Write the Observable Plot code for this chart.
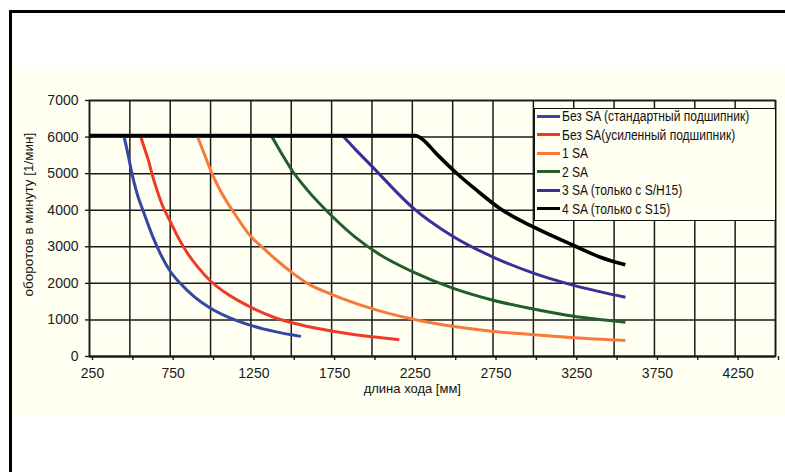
<!DOCTYPE html>
<html>
<head>
<meta charset="utf-8">
<script src="https://cdn.jsdelivr.net/npm/d3@7"></script>
<script src="https://cdn.jsdelivr.net/npm/@observablehq/plot@0.6"></script>
<style>
  body { margin: 0; background: #fff; }
  #wrap { position: relative; width: 785px; height: 472px; overflow: hidden; background: #fff; font-family: "Liberation Sans", Arial, sans-serif; }
  #border { position: absolute; left: 9px; top: 10px; width: 900px; height: 600px; border-left: 3px solid #000; border-top: 3px solid #000; }
  #band { position: absolute; left: 12px; top: 68px; width: 773px; height: 349px; background: #fffff2; }
  #chart { position: absolute; left: 0; top: 0; }
  #legend { position: absolute; left: 534px; top: 108px; width: 240px; height: 111px; border: 1px solid #111; background: #fffff2; }
  .row { position: absolute; left: 0; height: 18px; width: 240px; }
  .sw { position: absolute; left: 2px; width: 23px; height: 3px; }
  .lab { position: absolute; left: 27px; font-family: "Liberation Sans", Arial, sans-serif; font-size: 14px; color: #111; white-space: nowrap; line-height: 16px; transform: scaleX(0.86); transform-origin: 0 50%; }
</style>
</head>
<body>
<div id="wrap">
  <div id="band"></div>
  <div id="border"></div>
  <div id="chart"></div>
  <div id="legend"></div>
</div>
<script>
// ---- data (stroke length [mm] vs. speed [1/min]) ----
const seriesNames = [
  "Без SA (стандартный подшипник)",
  "Без SA(усиленный подшипник)",
  "1 SA",
  "2 SA",
  "3 SA (только с S/H15)",
  "4 SA (только с S15)"
];
const seriesColors = ["#3547a3", "#ef3a26", "#f7793b", "#215e2a", "#35309a", "#000000"];

const blueX = [465, 490, 513, 545, 585, 640, 690, 750, 812, 900, 1000, 1102, 1250, 1400, 1560];
const blueY = [6000, 5500, 5000, 4450, 3950, 3300, 2800, 2330, 2000, 1630, 1320, 1090, 850, 680, 550];

const redX = [568, 590, 616, 640, 668, 700, 755, 800, 853, 920, 1003, 1100, 1257, 1400, 1556, 1750, 2000, 2170];
const redY = [6000, 5700, 5350, 4950, 4550, 4150, 3650, 3250, 2850, 2450, 2050, 1720, 1330, 1060, 870, 700, 540, 460];

const orangeX = [920, 960, 1009, 1060, 1150, 1246, 1330, 1412, 1515, 1600, 1750, 2000, 2250, 2508, 2755, 3003, 3250, 3570];
const orangeY = [6000, 5550, 5000, 4540, 3900, 3300, 2950, 2625, 2260, 2000, 1700, 1310, 1025, 820, 684, 595, 511, 437];

const greenX = [1381, 1440, 1505, 1600, 1750, 1900, 2050, 2250, 2500, 2750, 3000, 3250, 3570];
const greenY = [6000, 5550, 5086, 4550, 3850, 3250, 2780, 2320, 1870, 1540, 1300, 1100, 938];

const purpleX = [1826, 1900, 2000, 2250, 2500, 2750, 3000, 3250, 3570];
const purpleY = [6000, 5650, 5200, 4080, 3290, 2720, 2280, 1945, 1622];

const blackX = [250, 2270, 2310, 2400, 2528, 2650, 2795, 3003, 3250, 3415, 3570];
const blackY = [6040, 6040, 5950, 5540, 4996, 4540, 4039, 3535, 3035, 2715, 2507];

const xGridTicks = [250, 500, 750, 1000, 1250, 1500, 1750, 2000, 2250, 2500, 2750, 3000, 3250, 3500, 3750, 4000, 4250, 4500];
const xTickLabels = [250, 750, 1250, 1750, 2250, 2750, 3250, 3750, 4250];
const yTicks = [0, 1000, 2000, 3000, 4000, 5000, 6000, 7000];

const xTitle = "длина хода [мм]";
const yTitle = "оборотов в минуту [1/мин]";

// ---- build table ----
const allX = [blueX, redX, orangeX, greenX, purpleX, blackX];
const allY = [blueY, redY, orangeY, greenY, purpleY, blackY];
const rows = [];
seriesNames.forEach((s, i) => allX[i].forEach((x, j) => rows.push({series: s, L: x, n: allY[i][j]})));

const lineMarks = seriesNames.map((s, i) =>
  Plot.line(rows.filter(d => d.series === s), {
    x: "L", y: "n", stroke: seriesColors[i],
    strokeWidth: i === 5 ? 3.6 : 3, curve: "monotone-x", strokeLinecap: "butt"
  })
);

const chart = Plot.plot({
  width: 785,
  height: 472,
  marginLeft: 89,
  marginRight: 10,
  marginTop: 100,
  marginBottom: 116,
  style: { background: "transparent", fontFamily: "'Liberation Sans', Arial, sans-serif", color: "#1a1a1a", overflow: "visible" },
  x: { domain: [250, 4500] },
  y: { domain: [0, 7000] },
  marks: [
    Plot.gridX(xGridTicks, { stroke: "#1a1a1a", strokeOpacity: 1, strokeWidth: 1.5 }),
    Plot.gridY(yTicks, { stroke: "#1a1a1a", strokeOpacity: 1, strokeWidth: 1.5 }),
    Plot.frame({ stroke: "#1a1a1a", strokeWidth: 1.6 }),
    Plot.ruleY([0], { stroke: "#1a1a1a", strokeWidth: 2.2 }),
    Plot.axisX({ ticks: xGridTicks, tickSize: 4, tickPadding: 8, fontSize: 14, dx: 3,
      tickFormat: d => xTickLabels.includes(d) ? String(d) : "", label: null, strokeWidth: 1.4 }),
    Plot.axisY({ ticks: yTicks, tickSize: 4, tickPadding: 7, fontSize: 14,
      tickFormat: d => String(d), label: null, strokeWidth: 1.4 }),
    ...lineMarks,
    Plot.text([xTitle], { x: 2250, frameAnchor: "bottom", dy: 36, text: d => d, fontSize: 13,
      textAnchor: "middle", fill: "#111" }),
    Plot.text([yTitle], { x: -128, y: 3880, rotate: -90, text: d => d, fontSize: 13.5,
      textAnchor: "middle", fill: "#111", clip: false })
  ]
});
document.getElementById("chart").appendChild(chart);

// ---- legend ----
const legend = document.getElementById("legend");
const rowTops = [7, 25.5, 44, 62.5, 81, 99.5];
seriesNames.forEach((s, i) => {
  const r = document.createElement("div");
  r.className = "row";
  r.style.top = (rowTops[i] - 9) + "px";
  const sw = document.createElement("div");
  sw.className = "sw";
  sw.style.background = seriesColors[i];
  sw.style.top = "7.5px";
  const lb = document.createElement("div");
  lb.className = "lab";
  lb.style.top = "1px";
  lb.textContent = s;
  r.appendChild(sw); r.appendChild(lb);
  legend.appendChild(r);
});
</script>
</body>
</html>
